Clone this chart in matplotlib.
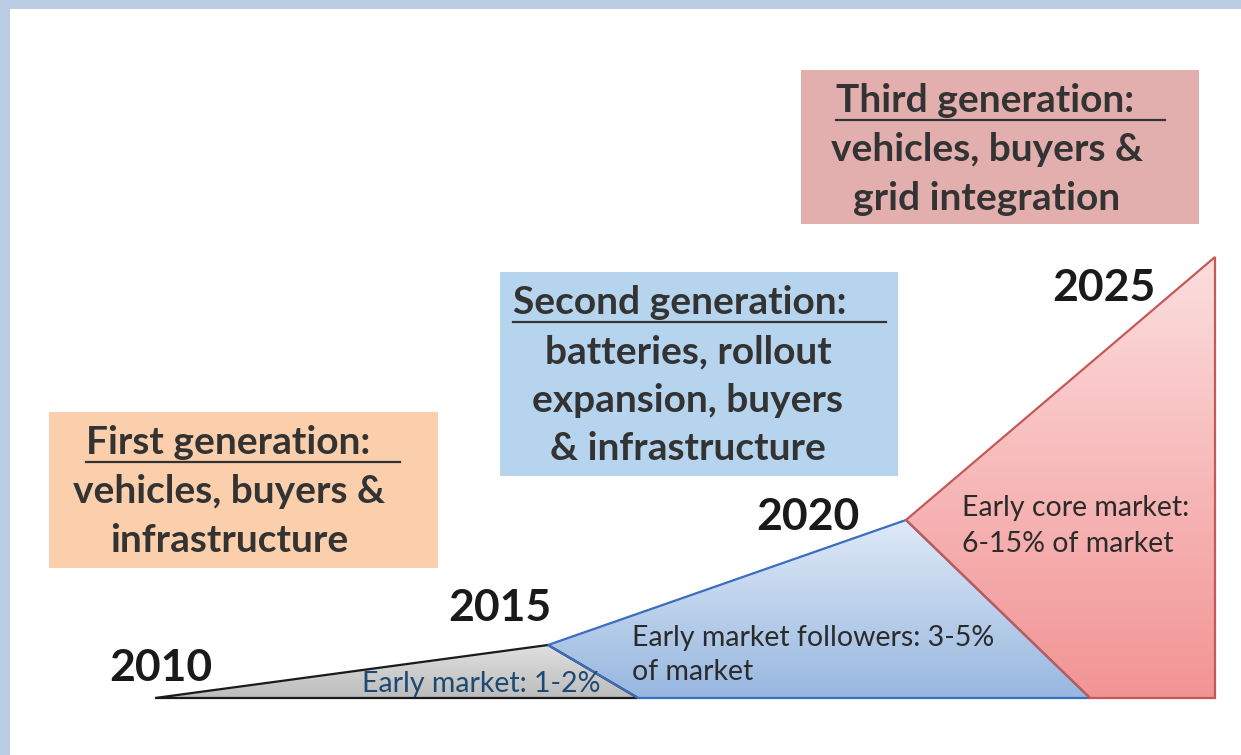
import numpy as np
import matplotlib
matplotlib.use('Agg')
import matplotlib.pyplot as plt
from matplotlib.patches import Polygon, Rectangle
from matplotlib.colors import to_rgb

# stage geometry (pixel layout of the diagram)
years = ['2010', '2015', '2020', '2025']
peak_x = [155, 548, 906, 1215]
peak_y = [698, 645, 520, 257]
base_right = [638, 1090, 1215]
baseline = 698

stage_labels = ['Early market: 1-2%',
                'Early market followers: 3-5%\nof market',
                'Early core market:\n6-15% of market']
stage_top = ['#e0e0e0', '#dfeaf7', '#fcdede']
stage_bottom = ['#bcbcbc', '#97b7df', '#f29494']
stage_edge = ['#1a1a1a', '#3b6dc0', '#c45a58']

gen_titles = ['First generation:', 'Second generation:', 'Third generation:']
gen_bodies = [['vehicles, buyers &', 'infrastructure'],
              ['batteries, rollout', 'expansion, buyers', '& infrastructure'],
              ['vehicles, buyers &', 'grid integration']]
gen_colors = ['#fbcfab', '#b7d4ee', '#e3afae']

fig = plt.figure(figsize=(12.41, 7.55), dpi=100)
fig.patch.set_facecolor('#bacde5')
ax = fig.add_axes([0, 0, 1, 1])
ax.set_xlim(0, 1241)
ax.set_ylim(755, 0)
ax.axis('off')

ax.add_patch(Rectangle((10, 9), 1231, 746, facecolor='white', edgecolor='none', zorder=0))

# polygons for the three stages
polys = [
    [(peak_x[0], peak_y[0]), (peak_x[1], peak_y[1]), (base_right[0], baseline)],
    [(peak_x[1], peak_y[1]), (peak_x[2], peak_y[2]), (base_right[1], baseline), (base_right[0], baseline)],
    [(peak_x[2], peak_y[2]), (peak_x[3], peak_y[3]), (base_right[2], baseline), (base_right[1], baseline)],
]

for i, pts in enumerate(polys):
    xs = [p[0] for p in pts]
    ys = [p[1] for p in pts]
    t = np.linspace(0, 1, 256)[:, None]
    c0 = np.array(to_rgb(stage_top[i]))
    c1 = np.array(to_rgb(stage_bottom[i]))
    grad = (c0 * (1 - t) + c1 * t)[:, None, :]
    im = ax.imshow(grad, extent=(min(xs), max(xs), max(ys), min(ys)), origin='upper',
                   aspect='auto', zorder=2)
    poly = Polygon(pts, closed=True, facecolor='none', edgecolor=stage_edge[i],
                   linewidth=1.6, zorder=3, joinstyle='miter')
    ax.add_patch(poly)
    im.set_clip_path(poly)

ax.set_xlim(0, 1241)
ax.set_ylim(755, 0)

# stage labels
ax.text(362, 684, stage_labels[0], fontsize=20.5, family='Lato', color='#1d4a72',
        ha='left', va='center', zorder=4)
ax.text(632, 655, stage_labels[1], fontsize=20.5, family='Lato', color='#2b2b2b',
        ha='left', va='center', linespacing=1.4, zorder=4)
ax.text(962, 526, stage_labels[2], fontsize=20.5, family='Lato', color='#2b2b2b',
        ha='left', va='center', linespacing=1.45, zorder=4)

# year labels
year_pos = [(161, 668), (500, 608), (808, 517), (1104, 288)]
for yr, (x, y) in zip(years, year_pos):
    ax.text(x, y, yr, fontsize=32, family='Lato', fontweight='bold', color='#1a1a1a',
            ha='center', va='center', zorder=5)

# generation boxes
boxes = [(49, 412, 389, 156), (500, 272, 398, 204), (801, 70, 398, 154)]
title_pos = [(86, 443, 400), (513, 303, 886), (836, 101, 1165)]
body_x = [229, 688, 987]
for i in range(3):
    x0, y0, w, h = boxes[i]
    ax.add_patch(Rectangle((x0, y0), w, h, facecolor=gen_colors[i], edgecolor='none', zorder=1))
    tx, ty, ux1 = title_pos[i]
    ax.text(tx, ty, gen_titles[i], fontsize=28, family='Lato', fontweight='bold',
            color='#333333', ha='left', va='center', zorder=4)
    ax.plot([tx, ux1], [ty + 19, ty + 19], color='#333333', lw=1.6, zorder=4)
    for k, line in enumerate(gen_bodies[i]):
        ax.text(body_x[i], ty + 48.5 * (k + 1), line, fontsize=28, family='Lato',
                fontweight='bold', color='#333333', ha='center', va='center', zorder=4)

fig.savefig('out.png', dpi=100)
